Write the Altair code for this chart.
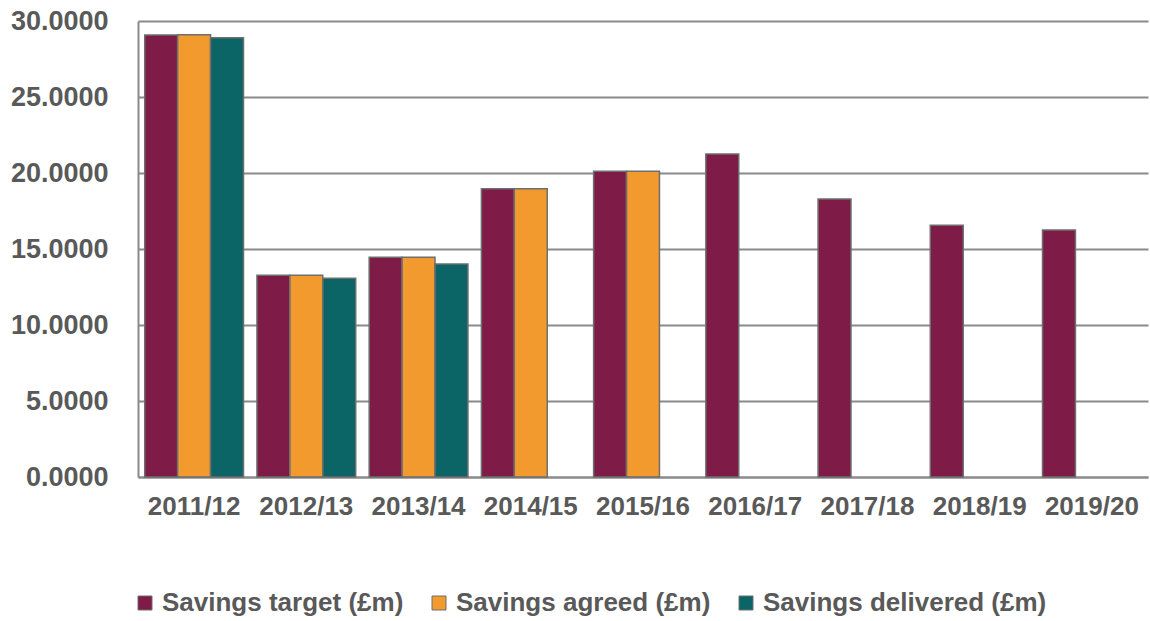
import altair as alt
import pandas as pd

years = ["2011/12", "2012/13", "2013/14", "2014/15", "2015/16",
         "2016/17", "2017/18", "2018/19", "2019/20"]
series = ["Savings target (£m)", "Savings agreed (£m)", "Savings delivered (£m)"]
target = [29.08, 13.28, 14.45, 18.97, 20.12, 21.25, 18.29, 16.56, 16.25]
agreed = [29.10, 13.28, 14.45, 18.97, 20.12, None, None, None, None]
delivered = [28.90, 13.07, 14.01, None, None, None, None, None, None]
colors = ["#7E1B46", "#F29A2E", "#0B6466"]

rows = []
for s, vals in zip(series, [target, agreed, delivered]):
    for y, v in zip(years, vals):
        if v is not None:
            rows.append({"year": y, "series": s, "value": v})
df = pd.DataFrame(rows)

text_color = "#595959"
font = "Liberation Sans"

chart = alt.Chart(df).mark_bar(stroke="#6e6e6e", strokeWidth=1.5).encode(
    x=alt.X("year:N", sort=years, title=None,
            scale=alt.Scale(paddingInner=0.12, paddingOuter=0.06),
            axis=alt.Axis(labelAngle=0, labelFont=font, labelFontSize=26,
                          labelFontWeight="bold", labelColor=text_color,
                          labelPadding=16, ticks=False, domainColor="#8a8a8a",
                          domainWidth=2)),
    xOffset=alt.XOffset("series:N", sort=series),
    y=alt.Y("value:Q", title=None,
            scale=alt.Scale(domain=[0, 30]),
            axis=alt.Axis(values=[0, 5, 10, 15, 20, 25, 30], format=".4f",
                          labelFont=font, labelFontSize=27, labelFontWeight="bold",
                          labelColor=text_color, labelPadding=30, ticks=False,
                          domainColor="#8a8a8a", domainWidth=2,
                          gridColor="#8a8a8a", gridWidth=2)),
    color=alt.Color("series:N", sort=series,
                    scale=alt.Scale(domain=series, range=colors),
                    legend=alt.Legend(title=None, orient="none", direction="horizontal",
                                      legendX=-6, legendY=569,
                                      symbolType="square", symbolSize=196,
                                      symbolStrokeColor="#6e6e6e", symbolStrokeWidth=1,
                                      labelFont=font, labelFontSize=26,
                                      labelFontWeight="bold", labelColor=text_color,
                                      labelLimit=400, columnPadding=22,
                                      labelOffset=4)),
).properties(
    width=1010, height=456,
    autosize=alt.AutoSizeParams(type="none"),
    padding={"left": 138, "top": 21, "right": 2, "bottom": 144},
).configure_view(stroke=None).configure_axis(grid=True).configure_axisX(grid=False)

chart.save("out.html", embed_options={"renderer": "svg", "actions": False})
